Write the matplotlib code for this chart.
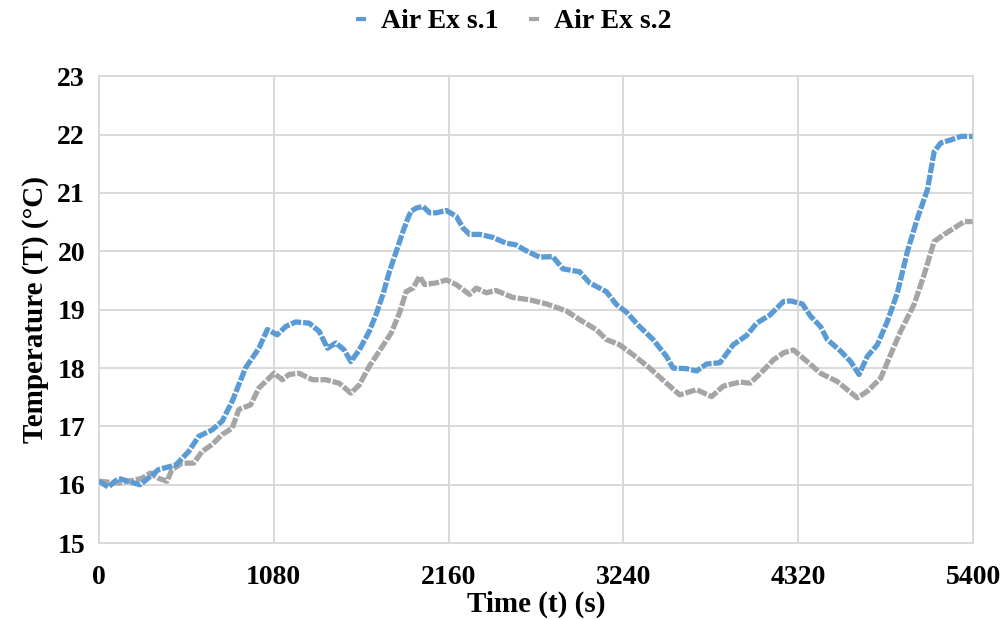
import matplotlib.pyplot as plt
from matplotlib.lines import Line2D

# Air Ex s.1 (blue)
t_s1 = [0, 58, 120, 254, 368, 475, 554, 616, 699, 761, 823, 905, 988, 1040, 1101,
        1153, 1215, 1298, 1360, 1412, 1463, 1515, 1556, 1608, 1670, 1712, 1754, 1795,
        1837, 1878, 1909, 1929, 1960, 2001, 2043, 2084, 2146, 2207, 2249, 2290, 2352,
        2432, 2515, 2577, 2639, 2722, 2804, 2866, 2969, 3031, 3134, 3196, 3258, 3340,
        3423, 3506, 3547, 3630, 3692, 3754, 3836, 3919, 4002, 4064, 4146, 4229, 4273,
        4345, 4396, 4458, 4499, 4582, 4644, 4696, 4747, 4809, 4871, 4933, 4995, 5057,
        5119, 5160, 5202, 5264, 5325, 5397]
T_s1 = [16.06, 15.96, 16.11, 16.0, 16.26, 16.34, 16.57, 16.83, 16.94, 17.09, 17.43,
        18.0, 18.34, 18.66, 18.57, 18.71, 18.79, 18.77, 18.63, 18.34, 18.43, 18.31,
        18.11, 18.31, 18.63, 18.92, 19.26, 19.66, 20.0, 20.34, 20.57, 20.69, 20.74,
        20.77, 20.66, 20.66, 20.70, 20.6, 20.4, 20.29, 20.29, 20.24, 20.14, 20.11,
        20.01, 19.9, 19.91, 19.7, 19.65, 19.46, 19.31, 19.09, 18.96, 18.71, 18.49,
        18.2, 18.0, 17.99, 17.95, 18.07, 18.09, 18.4, 18.56, 18.77, 18.91, 19.14,
        19.15, 19.1, 18.89, 18.71, 18.49, 18.29, 18.11, 17.89, 18.2, 18.4, 18.8,
        19.29, 20.0, 20.57, 21.06, 21.71, 21.86, 21.91, 21.97, 21.97]

# Air Ex s.2 (grey)
t_s2 = [0, 120, 182, 265, 316, 368, 420, 451, 513, 585, 637, 699, 761, 823, 864,
        937, 988, 1030, 1081, 1133, 1174, 1236, 1319, 1401, 1484, 1556, 1608, 1670,
        1732, 1805, 1856, 1898, 1940, 1981, 2012, 2084, 2146, 2207, 2290, 2331, 2393,
        2453, 2556, 2659, 2763, 2887, 2969, 3072, 3134, 3216, 3299, 3402, 3506, 3588,
        3692, 3785, 3857, 3960, 4022, 4084, 4167, 4229, 4291, 4376, 4458, 4561, 4623,
        4685, 4747, 4830, 4891, 4953, 5036, 5098, 5160, 5222, 5284, 5346, 5397]
T_s2 = [16.06, 16.03, 16.06, 16.11, 16.2, 16.11, 16.06, 16.26, 16.37, 16.37, 16.57,
        16.69, 16.86, 16.97, 17.29, 17.37, 17.66, 17.77, 17.91, 17.8, 17.89, 17.91,
        17.8, 17.8, 17.74, 17.57, 17.71, 18.03, 18.29, 18.6, 18.94, 19.31, 19.37,
        19.57, 19.43, 19.46, 19.51, 19.43, 19.26, 19.37, 19.29, 19.33, 19.21, 19.17,
        19.1, 18.98, 18.83, 18.66, 18.49, 18.4, 18.23, 18.0, 17.74, 17.54, 17.63,
        17.51, 17.69, 17.76, 17.74, 17.9, 18.14, 18.26, 18.31, 18.11, 17.91, 17.77,
        17.63, 17.49, 17.6, 17.83, 18.23, 18.63, 19.09, 19.6, 20.17, 20.29, 20.4,
        20.51, 20.51]

x_ticks = [0, 1080, 2160, 3240, 4320, 5400]
y_ticks = [15, 16, 17, 18, 19, 20, 21, 22, 23]

blue = '#5B9BD5'
grey = '#A5A5A5'
grid_col = '#D9D9D9'

plt.rcParams['font.family'] = ['Liberation Serif', 'DejaVu Serif']
plt.rcParams['font.weight'] = 'bold'

fig = plt.figure(figsize=(10, 6.2), dpi=100)
ax = fig.add_axes([0.099, 0.124, 0.874, 0.753])

dash = (0, (2.0, 0.35))
ax.plot(t_s2, T_s2, color=grey, lw=3.8, ls=dash, zorder=3)
ax.plot(t_s1, T_s1, color=blue, lw=3.8, ls=dash, zorder=4)

ax.set_xlim(0, 5400)
ax.set_ylim(15, 23)
ax.set_xticks(x_ticks)
ax.set_yticks(y_ticks)
ax.tick_params(length=0, labelsize=20)
ax.tick_params(axis='x', pad=16)
ax.tick_params(axis='y', pad=10)
for lab in ax.get_xticklabels() + ax.get_yticklabels():
    lab.set_fontweight('bold')

ax.grid(True, color=grid_col, lw=1.4)
ax.set_axisbelow(True)
for sp in ax.spines.values():
    sp.set_color(grid_col)
    sp.set_linewidth(1.4)

ax.set_xlabel('Time (t) (s)', fontsize=21, fontweight='bold', labelpad=0)
ax.set_ylabel('Temperature (T) (°C)', fontsize=21, fontweight='bold', labelpad=6)

handles = [Line2D([], [], color=blue, marker='_', ls='none', ms=7, mew=3),
           Line2D([], [], color=grey, marker='_', ls='none', ms=7, mew=3)]
fig.legend(handles, ['Air Ex s.1', 'Air Ex s.2'], loc='center', bbox_to_anchor=(0.512, 0.965),
           ncol=2, frameon=False, prop={'size': 20, 'weight': 'bold'},
           handlelength=0.6, handletextpad=0.4, columnspacing=1.0)

fig.savefig('out.png', dpi=100)
